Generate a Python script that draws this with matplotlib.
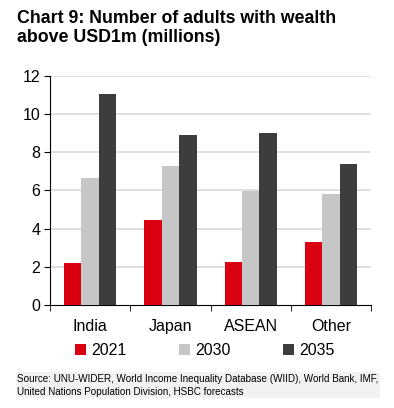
import numpy as np
import matplotlib
matplotlib.use('Agg')
import matplotlib.pyplot as plt

plt.rcParams['font.family'] = ['Liberation Sans', 'DejaVu Sans']

# --- Data ---
regions = ['India', 'Japan', 'ASEAN', 'Other']
years = ['2021', '2030', '2035']
v2021 = [2.2, 4.45, 2.25, 3.3]
v2030 = [6.65, 7.28, 5.95, 5.8]
v2035 = [11.05, 8.9, 9.0, 7.37]
colors = ['#DB0011', '#C6C6C6', '#3D3D3D']

# --- Figure ---
fig = plt.figure(figsize=(3.94, 4.08), dpi=100)
ax = fig.add_axes([0.127, 0.2525, 0.8146, 0.562])

x = np.arange(len(regions))
w = 0.217
for i, (vals, yr, c) in enumerate(zip([v2021, v2030, v2035], years, colors)):
    ax.bar(x + (i - 1) * w, vals, width=w, color=c, label=yr, zorder=3)

ax.set_xlim(-0.5, len(regions) - 0.5)
ax.set_ylim(0, 12)
ax.set_yticks(np.arange(0, 13, 2))
ax.tick_params(axis='y', labelsize=11.5, length=4, direction='out', pad=3)
ax.set_xticks(x)
ax.set_xticklabels(regions, fontsize=11.5)
ax.tick_params(axis='x', which='major', length=0, pad=10)
ax.set_xticks(np.arange(-0.5, len(regions), 1), minor=True)
ax.tick_params(axis='x', which='minor', length=4, direction='out')

for yv in np.arange(2, 13, 2):
    ax.axhline(yv, color='#D9D9D9', lw=1.2, zorder=1)

for s in ['top', 'right']:
    ax.spines[s].set_visible(False)
ax.spines['left'].set_color('black')
ax.spines['bottom'].set_color('black')

ax.legend(loc='upper center', bbox_to_anchor=(0.482, -0.105), ncol=3, frameon=False,
          fontsize=11.5, handlelength=0.7, handleheight=0.7, handletextpad=0.3,
          columnspacing=3.3)

fig.text(0.043, 0.975, 'Chart 9: Number of adults with wealth\nabove USD1m (millions)',
         fontsize=12.8, fontweight='bold', va='top', ha='left', linespacing=1.1)

fig.text(0.043, 0.028,
         'Source: UNU-WIDER, World Income Inequality Database (WIID), World Bank, IMF,\n'
         'United Nations Population Division, HSBC forecasts',
         fontsize=7.1, va='bottom', ha='left', linespacing=1.35,
         bbox=dict(facecolor='#F2F2F2', edgecolor='none', pad=1))

fig.savefig('out.png', dpi=100)
